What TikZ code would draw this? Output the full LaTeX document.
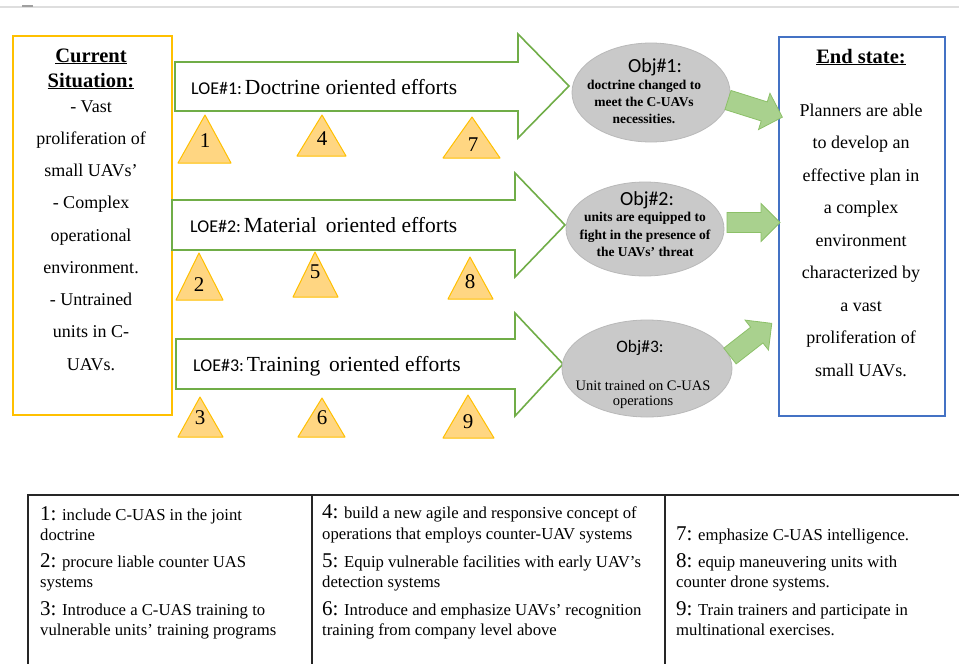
\documentclass[tikz,border=0pt]{standalone}
\usepackage{fontspec}
\setmainfont{Liberation Serif}
\newfontfamily\calibri{Carlito}
\usetikzlibrary{shapes.geometric}

\definecolor{sitOrange}{RGB}{255,192,0}
\definecolor{loeGreen}{RGB}{112,173,71}
\definecolor{triFill}{RGB}{255,214,130}
\definecolor{objGray}{RGB}{201,201,201}
\definecolor{objEdge}{RGB}{185,185,185}
\definecolor{blkFill}{RGB}{169,209,142}
\definecolor{blkEdge}{RGB}{140,192,104}
\definecolor{endBlue}{RGB}{68,114,196}
\definecolor{ruleGray}{RGB}{222,222,222}

\newcommand\itemno[1]{{\fontsize{21}{22}\selectfont #1:}}

\tikzset{
  framebox/.style={line width=2pt, inner sep=0pt, anchor=north west},
  loe/.style={draw=loeGreen, line width=1.6pt, fill=white, line join=miter},
  loetext/.style={anchor=base west, inner sep=0pt},
  marker/.style={draw=sitOrange, fill=triFill, line width=1pt, line join=round},
  markno/.style={inner sep=0pt, font=\fontsize{21}{22}\selectfont},
  objective/.style={ellipse, draw=objEdge, fill=objGray, line width=0.8pt, inner sep=0pt},
  objtitle/.style={anchor=base, inner sep=0pt, font=\calibri\fontsize{20}{22}\selectfont},
  objline/.style={anchor=base, inner sep=0pt, font=\fontsize{13.5}{15}\selectfont\bfseries},
  push/.style={draw=blkEdge, fill=blkFill, line width=0.8pt, line join=miter},
  heading/.style={anchor=base, inner sep=0pt, font=\fontsize{20.5}{22}\selectfont\bfseries},
  bodyline/.style={anchor=base, inner sep=0pt, font=\fontsize{18}{20}\selectfont},
  cell/.style={anchor=base west, inner sep=0pt, font=\fontsize{16.7}{18}\selectfont},
}

% block arrow along +x from a start coordinate
\newcommand\pusharrow[3]{%
  \begin{scope}[shift={(#1)}, rotate=#2]
    \draw[push] (0,-10) -- (#3-19,-10) -- (#3-19,-19) -- (#3,0)
      -- (#3-19,19) -- (#3-19,10) -- (0,10) -- cycle;
  \end{scope}}

\newcommand\loelabel[2]{{\calibri\fontsize{18}{20}\selectfont LOE\##1:}\hspace{3pt}\fontsize{21.5}{23}\selectfont #2}

\begin{document}
\begin{tikzpicture}[x=1pt,y=-1pt]
\useasboundingbox (0,0) rectangle (959,664);
\fill[white] (0,0) rectangle (959,664);

% page header rule
\draw[ruleGray, line width=1.2pt] (0,7) -- (959,7);
\fill[gray!75] (22,4.5) rectangle (33,7);

% ---- current situation ----
\node[framebox, draw=sitOrange, minimum width=159pt, minimum height=379pt] (cur) at (12,35) {};
\node[heading] (curT1) at (91,62) {\underline{Current}};
\node[heading] (curT2) at (91,87) {\underline{Situation:}};
\foreach \t [count=\i] in {- Vast, proliferation of, small UAVs’, - Complex, operational, environment., - Untrained, units in C-, UAVs.}
  \node[bodyline] (cs\i) at (91,{112+32.25*(\i-1)}) {\t};

% ---- lines of effort ----
\draw[loe] (175,62) -- (518,62) -- (518,34) -- (569,86) -- (518,138) -- (518,111) -- (175,111) -- cycle;
\draw[loe] (172,200) -- (515,200) -- (515,173) -- (565,225) -- (515,277) -- (515,250) -- (172,250) -- cycle;
\draw[loe] (176,339) -- (515,339) -- (515,313) -- (563,364) -- (515,416) -- (515,389) -- (176,389) -- cycle;

\node[loetext] (loe1) at (191,94) {\loelabel{1}{Doctrine oriented efforts}};
\node[loetext] (loe2) at (190,232) {\loelabel{2}{Material\, oriented efforts}};
\node[loetext] (loe3) at (193,371) {\loelabel{3}{Training\, oriented efforts}};

% ---- task markers ----
\draw[marker] (178,163) -- (205,115) -- (231,163) -- cycle;
\draw[marker] (297,156) -- (322,115) -- (346,156) -- cycle;
\draw[marker] (443,158) -- (472,117) -- (500,158) -- cycle;
\draw[marker] (176,300) -- (199,253) -- (223,300) -- cycle;
\draw[marker] (293,297) -- (315,252) -- (338,297) -- cycle;
\draw[marker] (448,299) -- (470,257) -- (493,299) -- cycle;
\draw[marker] (178,437) -- (200,397) -- (223,437) -- cycle;
\draw[marker] (298,437) -- (322,398) -- (345,437) -- cycle;
\draw[marker] (443,438) -- (468,395) -- (494,438) -- cycle;

\node[markno] (m1) at (205,141) {1};
\node[markno] (m4) at (322,139) {4};
\node[markno] (m7) at (473,145) {7};
\node[markno] (m2) at (199,285) {2};
\node[markno] (m5) at (315,272) {5};
\node[markno] (m8) at (470,282) {8};
\node[markno] (m3) at (200,418) {3};
\node[markno] (m6) at (322,418) {6};
\node[markno] (m9) at (468,422) {9};

% ---- objectives ----
\node[objective, minimum width=158pt, minimum height=99pt] (obj1) at (651,92.5) {};
\node[objective, minimum width=158pt, minimum height=94pt] (obj2) at (645,229) {};
\node[objective, minimum width=170pt, minimum height=97pt] (obj3) at (647,368.5) {};

\node[objtitle] (o1t) at (655,72) {Obj\#1:};
\node[objline] (o1a) at (644,89) {doctrine changed to};
\node[objline] (o1b) at (644,106) {meet the C-UAVs};
\node[objline] (o1c) at (644,123) {necessities.};

\node[objtitle] (o2t) at (647,205) {Obj\#2:};
\node[objline] (o2a) at (645,221) {units are equipped to};
\node[objline] (o2b) at (645,239) {fight in the presence of};
\node[objline] (o2c) at (645,256) {the UAVs’ threat};

\node[objtitle, font=\calibri\fontsize{17.5}{20}\selectfont] (o3t) at (640,352) {Obj\#3:};
\node[objline, font=\fontsize{14.5}{16}\selectfont] (o3a) at (643,390) {Unit trained on C-UAS};
\node[objline, font=\fontsize{14.5}{16}\selectfont] (o3b) at (643,405) {operations};

% ---- end state ----
\node[framebox, draw=endBlue, minimum width=166pt, minimum height=379pt] (end) at (778,36) {};
\node[heading] (endT) at (861,63) {\underline{End state:}};
\foreach \t [count=\i] in {Planners are able, to develop an, effective plan in, a complex, environment, characterized by, a vast, proliferation of, small UAVs.}
  \node[bodyline] (es\i) at (861,{116+32.5*(\i-1)}) {\t};

% ---- objectives feed the end state ----
\coordinate (p1) at (728,100);
\coordinate (p2) at (727,222.5);
\coordinate (p3) at (730,356);
\pusharrow{p1}{-17.5}{57}
\pusharrow{p2}{0}{53}
\pusharrow{p3}{38}{53}

% ---- task table ----
\draw[line width=1.2pt, black!85] (28,664) -- (28,495) -- (959,495);
\draw[line width=1.2pt, black!85] (312,495) -- (312,664);
\draw[line width=1.2pt, black!85] (665,495) -- (665,664);

\node[cell] (c1a) at (40,520) {\itemno{1} include C-UAS in the joint};
\node[cell] (c1b) at (40,540) {doctrine};
\node[cell] (c1c) at (40,567) {\itemno{2} procure liable counter UAS};
\node[cell] (c1d) at (40,587) {systems};
\node[cell] (c1e) at (40,615) {\itemno{3} Introduce a C-UAS training to};
\node[cell] (c1f) at (40,635) {vulnerable units’ training programs};

\node[cell] (c2a) at (322,518) {\itemno{4} build a new agile and responsive concept of};
\node[cell] (c2b) at (322,539) {operations that employs counter-UAV systems};
\node[cell] (c2c) at (322,567) {\itemno{5} Equip vulnerable facilities with early UAV’s};
\node[cell] (c2d) at (322,587) {detection systems};
\node[cell] (c2e) at (322,615) {\itemno{6} Introduce and emphasize UAVs’ recognition};
\node[cell] (c2f) at (322,635) {training from company level above};

\node[cell] (c3a) at (676,540) {\itemno{7} emphasize C-UAS intelligence.};
\node[cell] (c3b) at (676,567) {\itemno{8} equip maneuvering units with};
\node[cell] (c3c) at (676,587) {counter drone systems.};
\node[cell] (c3d) at (676,615) {\itemno{9} Train trainers and participate in};
\node[cell] (c3e) at (676,635) {multinational exercises.};
\end{tikzpicture}
\end{document}
